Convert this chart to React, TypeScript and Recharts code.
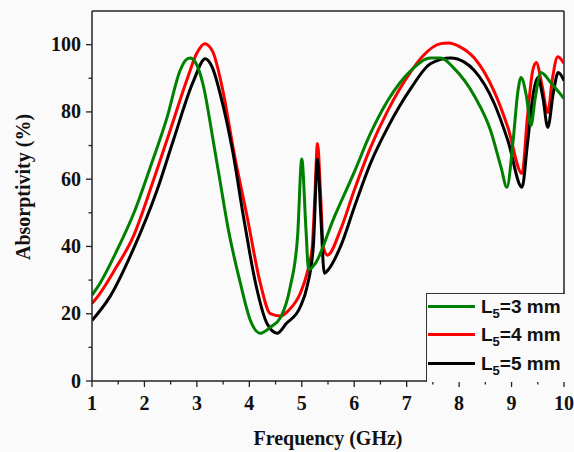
import React from 'react';
import {
  LineChart,
  Line,
  XAxis,
  YAxis,
  ReferenceLine,
} from 'recharts';

// L5 = 3 mm
const freq3 = [1.0, 1.15, 1.45, 1.8, 2.11, 2.43, 2.68, 2.78, 2.87, 2.97, 3.12, 3.31, 3.43, 3.6, 3.83, 4.02, 4.21, 4.4, 4.6, 4.78, 4.92, 5.0, 5.08, 5.13, 5.26, 5.6, 5.99, 6.31, 6.64, 7.08, 7.46, 7.65, 7.9, 8.3, 8.6, 8.8, 8.91, 9.03, 9.12, 9.18, 9.28, 9.37, 9.45, 9.56, 9.75, 10.0];
const abs3 = [25.5, 29, 38, 50, 63.5, 78.3, 92.3, 95.3, 96, 94.8, 88, 71.5, 60.5, 45, 29, 18, 14.2, 16, 19, 28, 43, 66, 45, 33, 35, 48, 61.7, 73.6, 83.4, 92.3, 96, 96, 93, 84.5, 74.5, 63.5, 57.6, 71.5, 86, 90.2, 85, 76, 84, 91.7, 88.7, 84];

// L5 = 4 mm
const freq4 = [1.0, 1.15, 1.45, 1.78, 2.17, 2.49, 2.82, 3.0, 3.15, 3.3, 3.5, 3.7, 3.96, 4.21, 4.4, 4.59, 4.75, 4.97, 5.1, 5.2, 5.25, 5.3, 5.36, 5.41, 5.49, 5.74, 6.0, 6.31, 6.64, 7.08, 7.3, 7.65, 7.8, 8.0, 8.29, 8.67, 8.93, 9.2, 9.3, 9.4, 9.47, 9.58, 9.69, 9.78, 9.88, 10.0];
const abs4 = [23, 26, 33.5, 42.7, 59.6, 74.5, 90, 97.5, 100.3, 98, 86, 68.5, 48.7, 29, 20, 19.3, 21, 26, 32, 40, 55, 70.6, 55, 40, 37.4, 45, 56.7, 69.4, 80.4, 92, 96.5, 100.3, 100.5, 99.5, 96, 86, 75.4, 61.7, 78, 92, 94.7, 88, 79.8, 90, 96.4, 94.4];

// L5 = 5 mm
const freq5 = [1.0, 1.34, 1.78, 2.24, 2.55, 2.93, 3.16, 3.3, 3.45, 3.68, 3.89, 4.12, 4.34, 4.53, 4.7, 4.97, 5.1, 5.22, 5.3, 5.36, 5.43, 5.5, 5.74, 6.0, 6.31, 6.64, 7.08, 7.46, 7.84, 8.1, 8.29, 8.67, 8.93, 9.2, 9.3, 9.42, 9.5, 9.6, 9.69, 9.8, 9.89, 10.0];
const abs5 = [18, 25, 38.9, 56.7, 71.5, 89, 95.8, 93, 85, 68.5, 48.7, 29, 17, 14.2, 17, 22, 28, 40, 66, 50, 32, 33, 40, 51.6, 64.7, 75.4, 87, 94.4, 96, 94.8, 92.3, 82.5, 71.5, 57.6, 70, 86, 90.2, 84, 75.4, 86, 91.7, 89.3];

const xTicks = [1, 1.5, 2, 2.5, 3, 3.5, 4, 4.5, 5, 5.5, 6, 6.5, 7, 7.5, 8, 8.5, 9, 9.5, 10];
const yTicks = [0, 10, 20, 30, 40, 50, 60, 70, 80, 90, 100];

const series = [
  { name: '3', color: '#008000', freq: freq3, abs: abs3 },
  { name: '4', color: '#ff0000', freq: freq4, abs: abs4 },
  { name: '5', color: '#000000', freq: freq5, abs: abs5 },
];

const toRows = (f: number[], a: number[]) => f.map((x, i) => ({ f: x, a: a[i] }));

const serif = '"Liberation Serif", "Times New Roman", serif';
const AXIS = '#222';

const XTick = (props: any) => {
  const { x, y, payload } = props;
  const major = Number.isInteger(payload.value);
  return (
    <g>
      <line x1={x} x2={x} y1={y} y2={y + (major ? 6 : 3.5)} stroke={AXIS} strokeWidth={1.3} />
      {major && (
        <text x={x} y={y + 29} textAnchor="middle" fontFamily={serif} fontWeight="bold" fontSize={20} fill="#111">
          {payload.value}
        </text>
      )}
    </g>
  );
};

const YTick = (props: any) => {
  const { x, y, payload } = props;
  const major = payload.value % 20 === 0;
  return (
    <g>
      <line x1={x} x2={x - (major ? 6 : 3.5)} y1={y} y2={y} stroke={AXIS} strokeWidth={1.3} />
      {major && (
        <text x={x - 11} y={y + 6.5} textAnchor="end" fontFamily={serif} fontWeight="bold" fontSize={20} fill="#111">
          {payload.value}
        </text>
      )}
    </g>
  );
};

const LegendBox = () => (
  <div
    style={{
      position: 'absolute',
      left: 426,
      top: 293,
      boxSizing: 'border-box',
      width: 139,
      height: 89,
      border: '1px solid #333',
      borderRight: 'none',
      borderBottom: 'none',
      background: '#fafafa',
      padding: '0 0 0 1px',
      fontFamily: 'Arial, "Liberation Sans", sans-serif',
      fontWeight: 'bold',
      fontSize: 19,
      lineHeight: '19px',
      color: '#111',
    }}
  >
    <div style={{ marginTop: -2 }}>
      {series.map((s) => (
        <div key={s.name} style={{ display: 'flex', alignItems: 'center', height: 28.5 }}>
          <div style={{ width: 47, height: 3, background: s.color, marginRight: 6 }} />
          <span style={{ whiteSpace: 'nowrap' }}>
            L<sub style={{ fontSize: 13, lineHeight: 0 }}>5</sub>={s.name} mm
          </span>
        </div>
      ))}
    </div>
  </div>
);

const App: React.FC = () => {
  const drawOrder = [series[1], series[2], series[0]];
  return (
    <div style={{ position: 'absolute', left: 0, top: 0, width: 574, height: 452, background: '#fafafa' }}>
      <LineChart width={574} height={452} margin={{ top: 11, right: 10, left: 0, bottom: 0 }}>
        <XAxis
          dataKey="f"
          type="number"
          domain={[1, 10]}
          ticks={xTicks}
          interval={0}
          allowDataOverflow
          height={71}
          tickSize={0}
          tickMargin={0}
          tickLine={false}
          tick={<XTick />}
          axisLine={{ stroke: AXIS, strokeWidth: 1.5 }}
          label={{
            value: 'Frequency (GHz)',
            position: 'insideBottom',
            offset: 7,
            style: { fontFamily: serif, fontWeight: 'bold', fontSize: 20, fill: '#111' },
          }}
        />
        <YAxis
          type="number"
          domain={[0, 110]}
          ticks={yTicks}
          interval={0}
          allowDataOverflow
          width={92}
          tickSize={0}
          tickMargin={0}
          tickLine={false}
          tick={<YTick />}
          axisLine={{ stroke: AXIS, strokeWidth: 1.5 }}
          label={{
            value: 'Absorptivity (%)',
            angle: -90,
            position: 'insideLeft',
            offset: 23,
            dy: -9,
            style: { textAnchor: 'middle', fontFamily: serif, fontWeight: 'bold', fontSize: 20, fill: '#111' },
          }}
        />
        <ReferenceLine y={110} stroke={AXIS} strokeWidth={1.5} />
        <ReferenceLine x={10} stroke={AXIS} strokeWidth={1.5} />
        {drawOrder.map((s) => (
          <Line
            key={s.name}
            data={toRows(s.freq, s.abs)}
            dataKey="a"
            type="monotone"
            stroke={s.color}
            strokeWidth={3}
            dot={false}
            activeDot={false}
            isAnimationActive={false}
          />
        ))}
      </LineChart>
      <LegendBox />
    </div>
  );
};

export default App;
